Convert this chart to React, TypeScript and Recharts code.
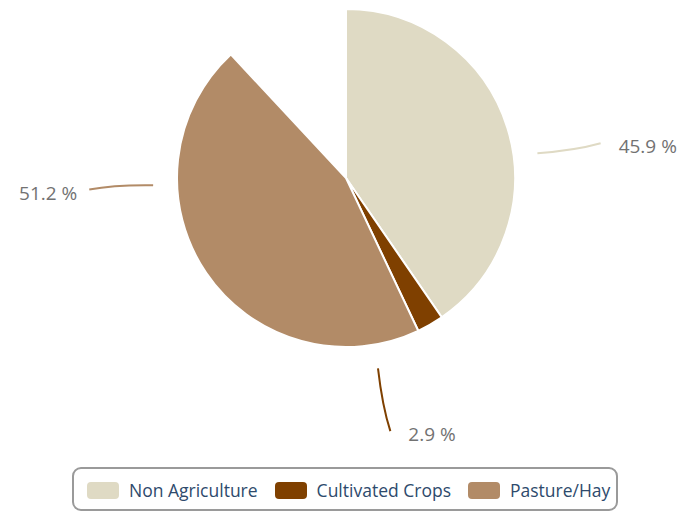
import { PieChart, Pie, Cell, Legend } from 'recharts';

const categories = ['Non Agriculture', 'Cultivated Crops', 'Pasture/Hay'];
const shares = [45.9, 2.9, 51.2];
const colors = ['#dfdac4', '#7f4000', '#b28b67'];

// the slices in the picture only cover part of the circle (caught mid-sweep)
const DRAWN_SWEEP = 317;

const RADIAN = Math.PI / 180;
const LABEL_FONT = '"Open Sans", "Noto Sans", sans-serif';

const data = categories.map((name, i) => ({ name, value: shares[i], color: colors[i] }));

function polar(cx: number, cy: number, r: number, angle: number) {
  return { x: cx + r * Math.cos(-angle * RADIAN), y: cy + r * Math.sin(-angle * RADIAN) };
}

function renderLabel(props: any) {
  const { cx, cy, midAngle, outerRadius, index } = props;
  const p1 = polar(cx, cy, outerRadius + 24, midAngle);
  const p2 = polar(cx, cy, outerRadius + 88, midAngle + 0.4);
  const pm = polar(cx, cy, outerRadius + 62, midAngle - 0.5);
  const right = p2.x >= cx;
  const tx = p2.x + (right ? 18 : -12);
  return (
    <g key={`lbl-${index}`}>
      <path
        d={`M${p1.x},${p1.y} Q${pm.x},${pm.y} ${p2.x},${p2.y}`}
        stroke={colors[index]}
        strokeWidth={2}
        fill="none"
      />
      <text
        x={tx}
        y={p2.y + 5}
        textAnchor={right ? 'start' : 'end'}
        dominantBaseline="middle"
        fill="#727272"
        stroke="none"
        fontSize={19}
        fontFamily={LABEL_FONT}
      >
        {`${shares[index].toFixed(1)} %`}
      </text>
    </g>
  );
}

function LegendBox() {
  return (
    <div
      style={{
        boxSizing: 'border-box',
        width: 546,
        height: 44,
        border: '2px solid #9a9a9a',
        borderRadius: 9,
        display: 'flex',
        alignItems: 'center',
        justifyContent: 'flex-start',
        paddingLeft: 13,
        paddingTop: 2,
        gap: 17,
        fontFamily: LABEL_FONT,
        fontSize: 17.5,
        color: '#2e4a6c',
        background: '#fff',
      }}
    >
      {categories.map((c, i) => (
        <div key={c} style={{ display: 'flex', alignItems: 'center' }}>
          <span
            style={{
              display: 'inline-block',
              width: 32,
              height: 17,
              borderRadius: 4,
              background: colors[i],
              marginRight: 10,
            }}
          />
          <span>{c}</span>
        </div>
      ))}
    </div>
  );
}

export default function App() {
  return (
    <div style={{ position: 'absolute', left: 0, top: 0, background: '#fff' }}>
      <PieChart width={686} height={511} margin={{ top: 0, right: 0, bottom: 0, left: 0 }}>
        <Pie
          data={data}
          dataKey="value"
          cx={346}
          cy={178}
          outerRadius={169}
          startAngle={90}
          endAngle={90 - DRAWN_SWEEP}
          stroke="#ffffff"
          strokeWidth={2}
          isAnimationActive={false}
          label={false}
          labelLine={false}
        >
          {data.map((d) => (
            <Cell key={d.name} fill={d.color} />
          ))}
        </Pie>
        <Pie
          data={data}
          dataKey="value"
          cx={346}
          cy={178}
          outerRadius={169}
          startAngle={90}
          endAngle={-270}
          fill="none"
          stroke="none"
          isAnimationActive={false}
          label={renderLabel}
          labelLine={false}
        />
        <Legend
          content={() => <LegendBox />}
          wrapperStyle={{ left: 72, top: 467, width: 546, height: 44 }}
        />
      </PieChart>
    </div>
  );
}
